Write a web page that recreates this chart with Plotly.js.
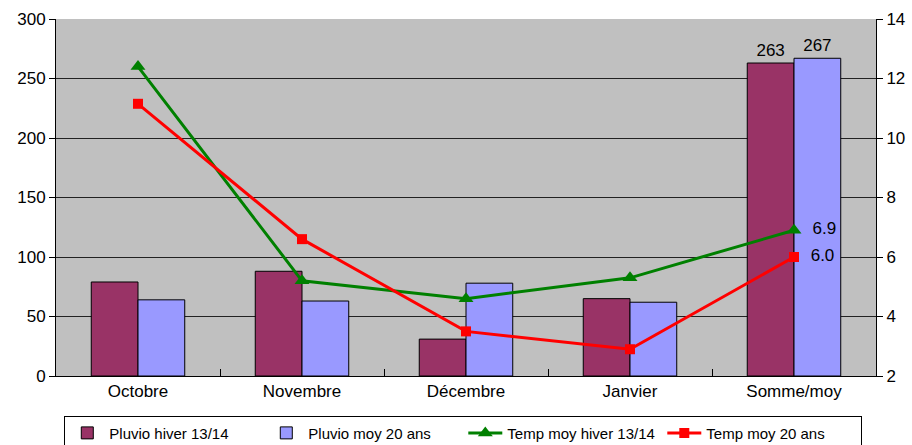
<!DOCTYPE html>
<html>
<head>
<meta charset="utf-8">
<script src="https://cdn.plot.ly/plotly-3.0.1.min.js"></script>
<style>html,body{margin:0;padding:0;background:#fff;}#chart{width:912px;height:445px;}</style>
</head>
<body>
<div id="chart"></div>
<script>
const categories = ["Octobre", "Novembre", "Décembre", "Janvier", "Somme/moy"];
const pluvioHiver = [79, 88, 31, 65, 263];
const pluvioMoy20 = [64, 63, 78, 62, 267];
const tempHiver = [12.4, 5.2, 4.6, 5.3, 6.9];
const tempMoy20 = [11.15, 6.6, 3.5, 2.9, 6.0];

const barLabels = (arr) => arr.map((v, i) => i === arr.length - 1 ? String(v) : "");
const lineLabels = (arr) => arr.map((v, i) => i === arr.length - 1 ? "  " + v.toFixed(1) : "");

const fam = "Liberation Sans, Arial, sans-serif";

const traces = [
  {type: "bar", name: "Pluvio hiver 13/14", x: categories, y: pluvioHiver,
   marker: {color: "#993366", line: {color: "#000", width: 1}},
   text: barLabels(pluvioHiver), textposition: "outside", cliponaxis: false,
   textfont: {size: 17, color: "#000", family: fam}},
  {type: "bar", name: "Pluvio moy 20 ans", x: categories, y: pluvioMoy20,
   marker: {color: "#9999FF", line: {color: "#000", width: 1}},
   text: barLabels(pluvioMoy20), textposition: "outside", cliponaxis: false,
   textfont: {size: 17, color: "#000", family: fam}},
  {type: "scatter", mode: "lines+markers+text", name: "Temp moy hiver 13/14", x: categories, y: tempHiver, yaxis: "y2",
   line: {color: "#008000", width: 3}, marker: {symbol: "triangle-up", size: 13, color: "#008000"},
   text: lineLabels(tempHiver), textposition: "middle right", textfont: {size: 17, color: "#000", family: fam}, cliponaxis: false},
  {type: "scatter", mode: "lines+markers+text", name: "Temp moy 20 ans", x: categories, y: tempMoy20, yaxis: "y2",
   line: {color: "#FF0000", width: 3}, marker: {symbol: "square", size: 10, color: "#FF0000"},
   text: lineLabels(tempMoy20), textposition: "middle right", textfont: {size: 17, color: "#000", family: fam}, cliponaxis: false}
];

const layout = {
  width: 912, height: 445,
  margin: {l: 56, r: 36, t: 19, b: 69, autoexpand: false},
  paper_bgcolor: "#fff", plot_bgcolor: "#C0C0C0",
  font: {size: 17, family: fam, color: "#000"},
  barmode: "group", bargap: 0.43, bargroupgap: 0,
  showlegend: true,
  legend: {orientation: "h", xref: "container", x: 0.508, xanchor: "center", yref: "container", y: 0.066, yanchor: "top",
           bordercolor: "#000", borderwidth: 1, bgcolor: "#fff",
           font: {size: 15, family: fam, color: "#000"}, traceorder: "normal",
           itemwidth: 34, entrywidth: 150, entrywidthmode: "pixels"},
  xaxis: {type: "category", showline: true, linecolor: "#000", linewidth: 1,
          ticks: "inside", tickson: "boundaries", ticklen: 7, tickcolor: "#000",
          showgrid: false, tickfont: {size: 17}, mirror: false},
  yaxis: {range: [0, 300], dtick: 50, showline: true, linecolor: "#000", linewidth: 1,
          ticks: "outside", ticklen: 6, tickcolor: "#000", showgrid: true, gridcolor: "#222",
          gridwidth: 1, zeroline: false, tickfont: {size: 17}},
  yaxis2: {range: [2, 14], dtick: 2, overlaying: "y", side: "right", showline: true,
           linecolor: "#000", linewidth: 1, ticks: "outside", ticklen: 6, tickcolor: "#000",
           showgrid: false, zeroline: false, tickfont: {size: 17}}
};

Plotly.newPlot("chart", traces, layout, {displayModeBar: false, staticPlot: true});
</script>
</body>
</html>
